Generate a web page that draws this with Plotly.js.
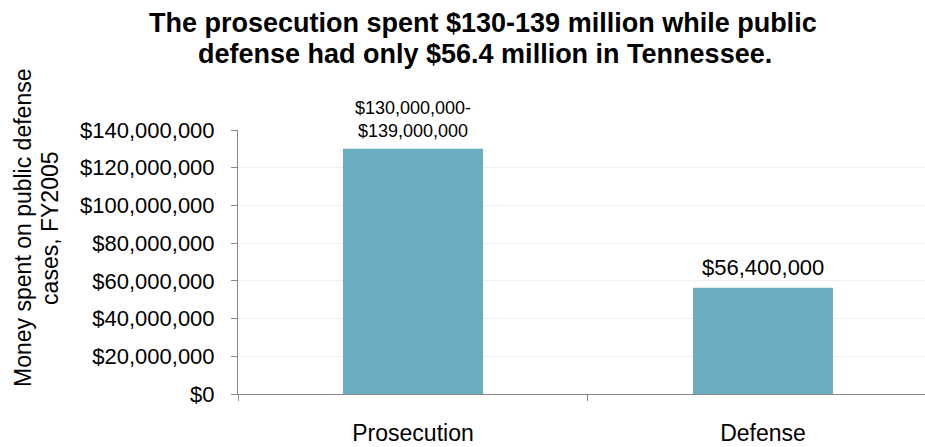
<!DOCTYPE html>
<html>
<head>
<meta charset="utf-8">
<script src="https://cdn.plot.ly/plotly-3.0.1.min.js"></script>
<style>html,body{margin:0;padding:0;background:#fff}#chart{width:925px;height:447px}</style>
</head>
<body>
<div id="chart"></div>
<script>
var categories = ["Prosecution", "Defense"];
var values = [130000000, 56400000];
var valueLabels = ["$130,000,000-<br>$139,000,000", "$56,400,000"];
var labelSizes = [18, 22];
var yTickVals = [0, 20000000, 40000000, 60000000, 80000000, 100000000, 120000000, 140000000];
var yTickText = ["$0", "$20,000,000", "$40,000,000", "$60,000,000", "$80,000,000", "$100,000,000", "$120,000,000", "$140,000,000"];
var titleLines = ["The prosecution spent $130-139 million while public", "defense had only $56.4 million in Tennessee."];
var yTitleLines = ["Money spent on public defense", "cases, FY2005"];

var font = "Liberation Sans, Arial, sans-serif";

var trace = {
  type: "bar",
  x: categories,
  y: values,
  width: 0.4,
  marker: {color: "#6aacc0"},
  hoverinfo: "none"
};

var annotations = categories.map(function (c, i) {
  return {
    x: c, y: values[i], xref: "x", yref: "y",
    text: valueLabels[i], showarrow: false,
    yanchor: "bottom", yshift: 6,
    font: {family: font, size: labelSizes[i], color: "#000"}
  };
});
// title lines
var titleY = [1.405, 1.288];
var titleX = [0.3566, 0.359];
titleLines.forEach(function (t, i) {
  annotations.push({
    xref: "paper", yref: "paper", x: titleX[i], y: titleY[i],
    text: "<b>" + t + "</b>", showarrow: false,
    xanchor: "center", yanchor: "middle",
    font: {family: font, size: 27, color: "#000"}
  });
});
// y-axis title lines
var yTitleX = [-0.313, -0.2737];
yTitleLines.forEach(function (t, i) {
  annotations.push({
    xref: "paper", yref: "paper", x: yTitleX[i], y: 0.629,
    text: t, textangle: -90, showarrow: false,
    xanchor: "center", yanchor: "middle",
    font: {family: font, size: 23, color: "#000"}
  });
});

var layout = {
  width: 925, height: 447,
  margin: {l: 238, r: 0, t: 130, b: 53},
  paper_bgcolor: "#fff", plot_bgcolor: "#fff",
  showlegend: false,
  xaxis: {
    range: [-0.5, 1.463],
    showline: true, linecolor: "#888", linewidth: 1,
    ticks: "outside", tickson: "boundaries", ticklen: 6, tickcolor: "#888",
    showgrid: false,
    tickfont: {family: font, size: 23, color: "#000"},
    ticklabelstandoff: 18
  },
  yaxis: {
    range: [0, 140000000],
    tickvals: yTickVals, ticktext: yTickText,
    showline: true, linecolor: "#888", linewidth: 1,
    ticks: "outside", ticklen: 6, tickcolor: "#888",
    showgrid: true, gridcolor: "#f0f0f0",
    zeroline: false,
    tickfont: {family: font, size: 22, color: "#000"},
    ticklabelstandoff: 12
  },
  annotations: annotations
};

Plotly.newPlot("chart", [trace], layout, {staticPlot: true, displayModeBar: false});
</script>
</body>
</html>
